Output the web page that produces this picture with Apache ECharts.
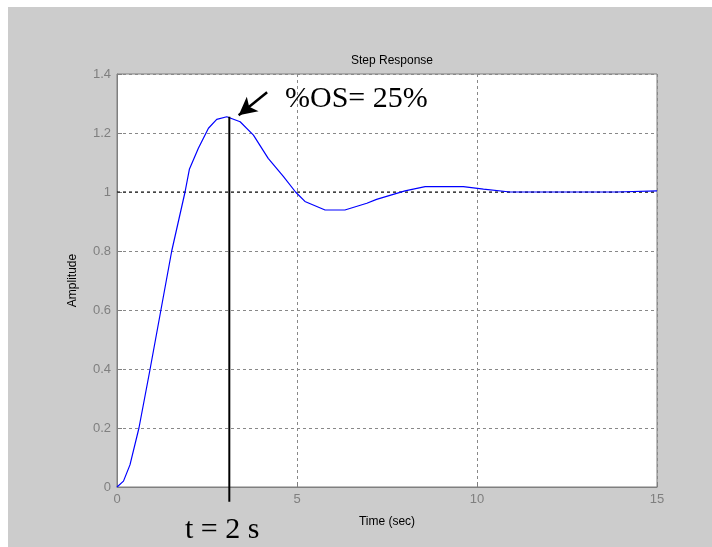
<!DOCTYPE html>
<html>
<head>
<meta charset="utf-8">
<script src="https://cdn.jsdelivr.net/npm/echarts@6/dist/echarts.min.js"></script>
<style>html,body{margin:0;padding:0;background:#fff;}#c{width:712px;height:547px;}</style>
</head>
<body>
<div id="c"></div>
<script>
// Data
const timeValues = [0, 0.18, 0.36, 0.61, 0.92, 1.22, 1.52, 1.89, 2.01, 2.26, 2.54, 2.77, 3.05, 3.42, 3.79, 4.2, 4.62, 4.96, 5.22, 5.78, 6.33, 6.94, 7.21, 8.0, 8.56, 9.62, 10.18, 10.92, 13.88, 13.9, 15];
const amplitudeValues = [0, 0.02, 0.075, 0.2, 0.4, 0.6, 0.8, 1.0, 1.077, 1.148, 1.216, 1.246, 1.255, 1.238, 1.193, 1.114, 1.053, 1.0, 0.968, 0.939, 0.939, 0.962, 0.975, 1.004, 1.018, 1.018, 1.01, 1.0, 1.0, 1.004, 1.004];
const steadyState = [[0, 1], [15, 1]];
const peakLine = [[3.12, 1.255], [3.12, -0.05]];
const arrowFrom = [4.17, 1.338];
const arrowTo = [3.38, 1.26];
const titleText = 'Step Response';
const xName = 'Time (sec)';
const yName = 'Amplitude';
const osText = '%OS= 25%';
const tText = 't = 2 s';

const stepData = timeValues.map((t, i) => [t, amplitudeValues[i]]);

const chart = echarts.init(document.getElementById('c'), null, {renderer: 'canvas'});
const gray = '#7f7f7f';
const sans = '"Liberation Sans", Arial, sans-serif';
const serif = '"Liberation Serif", "Times New Roman", serif';

chart.setOption({
  backgroundColor: '#cccccc',
  animation: false,
  title: {
    text: titleText, left: 387, top: 50, textAlign: 'center',
    textStyle: {fontFamily: sans, fontSize: 12, fontWeight: 'normal', color: '#000'}
  },
  grid: {left: 117, top: 74, right: 55, bottom: 60, show: true, backgroundColor: '#fff', borderColor: gray, borderWidth: 1},
  xAxis: {
    type: 'value', min: 0, max: 15, interval: 5,
    name: xName, nameLocation: 'middle', nameGap: 29,
    nameTextStyle: {fontFamily: sans, fontSize: 12, color: '#000'},
    axisLine: {show: true, lineStyle: {color: gray}},
    axisTick: {show: true, inside: true, length: 5, lineStyle: {color: gray}},
    axisLabel: {fontFamily: sans, fontSize: 13, color: gray, margin: 6},
    splitLine: {show: true, lineStyle: {color: '#888', type: [3, 3], width: 1}}
  },
  yAxis: {
    type: 'value', min: 0, max: 1.4, interval: 0.2,
    name: yName, nameLocation: 'middle', nameGap: 38,
    nameTextStyle: {fontFamily: sans, fontSize: 12, color: '#000'},
    axisLine: {show: true, lineStyle: {color: gray}},
    axisTick: {show: true, inside: true, length: 5, lineStyle: {color: gray}},
    axisLabel: {fontFamily: sans, fontSize: 13, color: gray, margin: 6,
      formatter: v => (Math.round(v * 10) / 10).toString()},
    splitLine: {show: true, lineStyle: {color: '#888', type: [3, 3], width: 1}}
  },
  series: [
    {
      type: 'line', data: steadyState, symbol: 'none', silent: true, z: 2,
      lineStyle: {color: '#000', width: 1, type: [3, 3]}
    },
    {
      type: 'line', data: stepData, symbol: 'none', smooth: false, z: 3,
      lineStyle: {color: '#0000ff', width: 1.2}
    },
    {
      type: 'line', data: peakLine, symbol: 'none', clip: false, z: 4,
      lineStyle: {color: '#000', width: 2},
      markLine: {
        silent: true, symbol: ['none', 'arrow'], symbolSize: [14, 18],
        label: {show: false},
        lineStyle: {color: '#000', width: 2.5, type: 'solid'},
        data: [[{coord: arrowFrom}, {coord: arrowTo}]]
      }
    }
  ],
  graphic: [
    {type: 'rect', shape: {x: 0, y: 0, width: 712, height: 7}, style: {fill: '#fff'}, silent: true},
    {type: 'rect', shape: {x: 0, y: 0, width: 8, height: 547}, style: {fill: '#fff'}, silent: true},
    {type: 'text', left: 285, top: 84, z: 10,
      style: {text: osText, font: '30px ' + serif, fill: '#000'}},
    {type: 'text', left: 185, top: 515, z: 10,
      style: {text: tText, font: '30px ' + serif, fill: '#000'}}
  ]
});
</script>
</body>
</html>
